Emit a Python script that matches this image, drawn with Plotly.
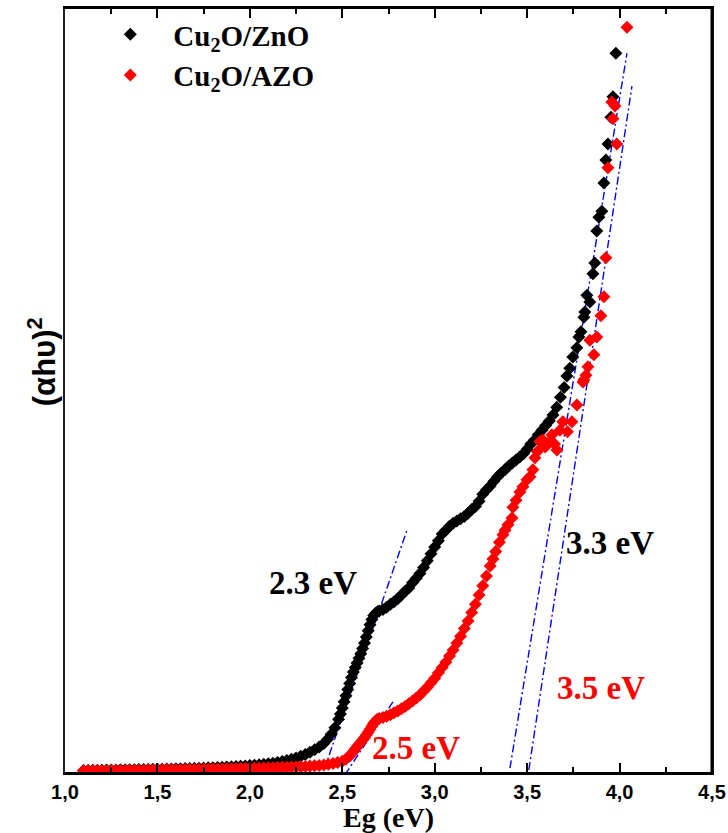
import plotly.graph_objects as go

# ---- Tauc plot data: photon energy (eV) vs (alpha*h*nu)^2 (arb. units) ----
zno_eg = [
    1.100, 1.125, 1.150, 1.175, 1.200, 1.225, 1.250, 1.275, 1.300, 1.325,
    1.350, 1.375, 1.400, 1.425, 1.450, 1.475, 1.500, 1.525, 1.550, 1.575,
    1.600, 1.625, 1.650, 1.675, 1.700, 1.725, 1.750, 1.775, 1.800, 1.825,
    1.850, 1.875, 1.900, 1.925, 1.950, 1.975, 2.000, 2.025, 2.050, 2.075,
    2.100, 2.125, 2.150, 2.175, 2.200, 2.225, 2.250, 2.275, 2.300, 2.325,
    2.350, 2.375, 2.40, 2.42, 2.44, 2.46, 2.48, 2.49, 2.50, 2.51,
    2.52, 2.53, 2.54, 2.55, 2.56, 2.57, 2.58, 2.59, 2.60, 2.61,
    2.62, 2.63, 2.64, 2.65, 2.66, 2.67, 2.68, 2.69, 2.70, 2.72,
    2.74, 2.76, 2.78, 2.80, 2.82, 2.84, 2.86, 2.88, 2.90, 2.92,
    2.94, 2.96, 2.98, 3.00, 3.02, 3.04, 3.06, 3.08, 3.10, 3.12,
    3.14, 3.16, 3.18, 3.20, 3.22, 3.24, 3.26, 3.28, 3.30, 3.32,
    3.34, 3.36, 3.38, 3.40, 3.42, 3.44, 3.46, 3.48, 3.50, 3.52,
    3.54, 3.56, 3.58, 3.60, 3.62, 3.64, 3.66, 3.68, 3.70, 3.715,
    3.731, 3.747, 3.769, 3.780, 3.791, 3.807, 3.812, 3.823, 3.839, 3.856,
    3.866, 3.877, 3.888, 3.904, 3.915, 3.926, 3.937, 3.953, 3.964, 3.980,
]
zno_abs = [
    0.20, 0.21, 0.22, 0.23, 0.24, 0.25, 0.26, 0.27, 0.28, 0.29,
    0.30, 0.31, 0.32, 0.33, 0.34, 0.35, 0.36, 0.37, 0.39, 0.40,
    0.42, 0.43, 0.45, 0.46, 0.48, 0.50, 0.52, 0.55, 0.57, 0.60,
    0.62, 0.65, 0.68, 0.72, 0.76, 0.80, 0.85, 0.90, 0.95, 1.01,
    1.08, 1.16, 1.25, 1.36, 1.50, 1.66, 1.85, 2.07, 2.30, 2.58,
    2.90, 3.28, 3.75, 4.30, 4.95, 5.80, 6.90, 7.60, 8.40, 9.20,
    10.0, 10.8, 11.6, 12.4, 13.1, 13.7, 14.3, 14.9, 15.5, 16.2,
    16.9, 17.7, 18.5, 19.3, 20.0, 20.5, 20.8, 21.0, 21.1, 21.3,
    21.6, 22.0, 22.3, 22.7, 23.2, 23.7, 24.1, 24.8, 25.4, 26.0,
    26.8, 27.7, 28.6, 29.5, 30.3, 31.2, 31.7, 32.2, 32.6, 32.9,
    33.2, 33.5, 33.9, 34.4, 34.8, 35.5, 36.4, 37.0, 37.5, 38.1,
    38.7, 39.2, 39.6, 40.1, 40.5, 40.9, 41.3, 41.7, 42.3, 43.0,
    43.5, 44.2, 44.8, 45.4, 46.0, 46.8, 47.8, 49.1, 50.4, 51.9,
    52.9, 54.4, 55.6, 57.0, 57.7, 59.6, 60.3, 62.5, 61.6, 65.3,
    66.7, 70.9, 72.7, 73.5, 77.2, 80.2, 82.3, 85.8, 88.5, 94.2,
]

azo_eg = [
    1.100, 1.125, 1.150, 1.175, 1.200, 1.225, 1.250, 1.275, 1.300, 1.325,
    1.350, 1.375, 1.400, 1.425, 1.450, 1.475, 1.500, 1.525, 1.550, 1.575,
    1.600, 1.625, 1.650, 1.675, 1.700, 1.725, 1.750, 1.775, 1.800, 1.825,
    1.850, 1.875, 1.900, 1.925, 1.950, 1.975, 2.000, 2.025, 2.050, 2.075,
    2.100, 2.125, 2.150, 2.175, 2.200, 2.225, 2.250, 2.275, 2.300, 2.325,
    2.350, 2.375, 2.400, 2.425, 2.450, 2.475, 2.50, 2.52, 2.54, 2.55,
    2.56, 2.57, 2.58, 2.59, 2.60, 2.61, 2.62, 2.63, 2.64, 2.65,
    2.66, 2.67, 2.68, 2.69, 2.70, 2.72, 2.74, 2.76, 2.78, 2.80,
    2.82, 2.84, 2.86, 2.88, 2.90, 2.92, 2.94, 2.96, 2.98, 3.00,
    3.02, 3.04, 3.06, 3.08, 3.10, 3.12, 3.14, 3.16, 3.18, 3.20,
    3.22, 3.24, 3.26, 3.28, 3.30, 3.315, 3.33, 3.35, 3.369, 3.38,
    3.396, 3.418, 3.423, 3.44, 3.461, 3.477, 3.499, 3.515, 3.531, 3.542,
    3.555, 3.569, 3.585, 3.598, 3.612, 3.634, 3.648, 3.661, 3.677, 3.693,
    3.718, 3.742, 3.769, 3.802, 3.807, 3.818, 3.829, 3.839, 3.861, 3.877,
    3.899, 3.915, 3.926, 3.937, 3.958, 3.964, 3.975, 3.985, 4.040,
]
azo_abs = [
    0.15, 0.16, 0.16, 0.17, 0.18, 0.18, 0.19, 0.20, 0.20, 0.21,
    0.22, 0.23, 0.23, 0.24, 0.25, 0.26, 0.27, 0.28, 0.28, 0.29,
    0.30, 0.31, 0.32, 0.33, 0.34, 0.35, 0.36, 0.37, 0.38, 0.39,
    0.40, 0.41, 0.43, 0.44, 0.46, 0.47, 0.49, 0.50, 0.52, 0.53,
    0.55, 0.57, 0.59, 0.61, 0.63, 0.65, 0.67, 0.70, 0.73, 0.77,
    0.81, 0.86, 0.92, 1.00, 1.10, 1.24, 1.42, 1.70, 2.10, 2.40,
    2.70, 3.00, 3.30, 3.60, 3.90, 4.20, 4.50, 4.85, 5.20, 5.60,
    6.00, 6.40, 6.70, 6.90, 7.00, 7.15, 7.30, 7.50, 7.75, 8.00,
    8.30, 8.60, 8.95, 9.30, 9.70, 10.1, 10.6, 11.1, 11.7, 12.3,
    13.0, 13.7, 14.4, 15.2, 16.0, 16.9, 17.8, 18.8, 19.8, 20.9,
    22.0, 23.2, 24.4, 25.7, 27.0, 27.9, 28.9, 30.1, 31.1, 31.7,
    32.4, 33.3, 34.7, 35.6, 36.7, 37.4, 38.3, 38.7, 39.6, 41.2,
    42.0, 43.3, 43.5, 42.6, 43.1, 44.2, 43.0, 42.2, 44.8, 45.9,
    44.6, 45.9, 48.1, 51.1, 51.4, 52.0, 53.1, 56.6, 54.7, 57.0,
    59.8, 62.3, 67.4, 79.2, 87.8, 85.6, 87.3, 82.3, 97.6,
]

# ---- linear extrapolations of the absorption edges (end points) ----
fit_zno_low_eg = [2.401, 2.850]
fit_zno_low_abs = [0.26, 31.7]
fit_azo_low_eg = [2.514, 2.774]
fit_azo_low_abs = [-0.4, 9.2]
fit_zno_high_eg = [3.407, 4.040]
fit_zno_high_abs = [0.5, 94.2]
fit_azo_high_eg = [3.509, 4.067]
fit_azo_high_abs = [0.26, 89.9]

# ---- band-gap labels ----
gap_text = ["2.3 eV", "2.5 eV", "3.3 eV", "3.5 eV"]
gap_eg = [2.341, 2.898, 3.948, 3.899]
gap_abs = [24.8, 3.1, 30.0, 11.0]
gap_color = ["#000000", "#FF0000", "#000000", "#FF0000"]

# ---- axis ticks ----
tick_vals = [1.0, 1.5, 2.0, 2.5, 3.0, 3.5, 4.0, 4.5]
tick_text = ["1,0", "1,5", "2,0", "2,5", "3,0", "3,5", "4,0", "4,5"]

SERIF = "Liberation Serif"
SANS = "Liberation Sans"

fig = go.Figure()

fits = [
    (fit_zno_low_eg, fit_zno_low_abs),
    (fit_azo_low_eg, fit_azo_low_abs),
    (fit_zno_high_eg, fit_zno_high_abs),
    (fit_azo_high_eg, fit_azo_high_abs),
]
for fx, fy in fits:
    fig.add_trace(go.Scatter(
        x=fx, y=fy, mode="lines", showlegend=False, hoverinfo="skip",
        line=dict(color="#0000FF", width=1.4, dash="8px,3px,2px,3px"),
    ))

fig.add_trace(go.Scatter(
    x=zno_eg, y=zno_abs, mode="markers", name="Cu<sub>2</sub>O/ZnO",
    legendgroup="zno",
    marker=dict(symbol="diamond", size=10, color="#000000", line=dict(width=0)),
))
fig.add_trace(go.Scatter(
    x=azo_eg, y=azo_abs, mode="markers", name="Cu<sub>2</sub>O/AZO",
    legendgroup="azo",
    marker=dict(symbol="diamond", size=10, color="#FF0000", line=dict(width=0)),
))

for t, gx, gy, c in zip(gap_text, gap_eg, gap_abs, gap_color):
    fig.add_annotation(
        x=gx, y=gy, xref="x", yref="y", text=t, showarrow=False,
        font=dict(family=SERIF, size=33, color=c, weight="bold"),
        xanchor="center", yanchor="middle",
    )

# y-axis title
fig.add_annotation(
    x=-0.036, y=0.538, xref="paper", yref="paper",
    text="(\u03b1h\u03c5)<sup>2</sup>", showarrow=False, textangle=-90,
    font=dict(family=SANS, size=31, color="#000000", weight="bold"),
    xanchor="center", yanchor="middle",
)

# heavier right-hand frame
fig.add_shape(type="line", xref="paper", yref="paper", x0=1, x1=1, y0=0, y1=1,
              line=dict(color="#000000", width=3))

fig.update_layout(
    width=728, height=833,
    margin=dict(l=65, r=16, t=9, b=61, autoexpand=False),
    paper_bgcolor="white", plot_bgcolor="white",
    showlegend=True,
    legend=dict(
        x=0.0345, y=1.0, xanchor="left", yanchor="top",
        bgcolor="rgba(0,0,0,0)", borderwidth=0,
        font=dict(family=SERIF, size=29, color="#000000", weight="bold"),
        itemwidth=76, tracegroupgap=15, traceorder="normal",
    ),
    xaxis=dict(
        range=[1.0, 4.5], tickvals=tick_vals, ticktext=tick_text,
        ticks="inside", ticklen=9, tickwidth=2, tickcolor="#000000",
        minor=dict(ticks="inside", ticklen=5, tickwidth=1.5, dtick=0.25,
                   tick0=1.0, tickcolor="#000000"),
        showline=True, linewidth=2.5, linecolor="#000000", mirror="ticks",
        showgrid=False, zeroline=False,
        tickfont=dict(family=SANS, size=20, color="#000000", weight="bold"),
        title=dict(text="Eg (eV)", standoff=1,
                   font=dict(family=SERIF, size=28, color="#000000", weight="bold")),
    ),
    yaxis=dict(
        range=[0, 100], showticklabels=False, ticks="",
        showline=True, linewidth=2, linecolor="#222222", mirror=True,
        showgrid=False, zeroline=False,
    ),
)

fig.write_html("out.html", config={"displayModeBar": False})
